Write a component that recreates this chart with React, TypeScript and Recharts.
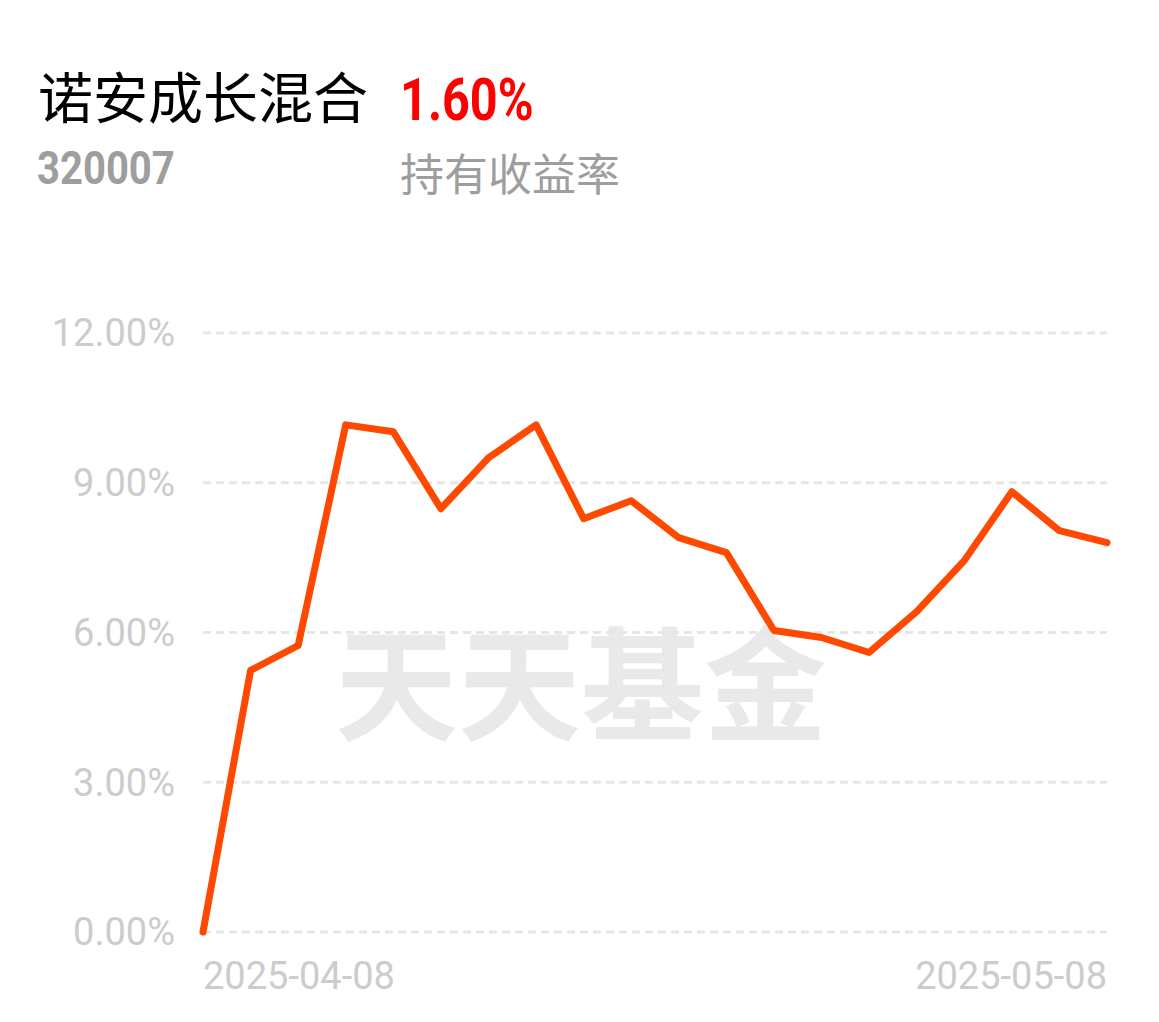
import { LineChart, Line, XAxis, YAxis, CartesianGrid } from "recharts";

const dates = [
  "2025-04-08", "2025-04-09", "2025-04-10", "2025-04-11", "2025-04-14",
  "2025-04-15", "2025-04-16", "2025-04-17", "2025-04-18", "2025-04-21",
  "2025-04-22", "2025-04-23", "2025-04-24", "2025-04-25", "2025-04-28",
  "2025-04-29", "2025-04-30", "2025-05-06", "2025-05-07", "2025-05-08",
];
const returns = [
  0, 5.24, 5.74, 10.16, 10.02, 8.48, 9.5, 10.16, 8.28, 8.64,
  7.9, 7.6, 6.04, 5.9, 5.6, 6.42, 7.44, 8.82, 8.04, 7.8,
];
const yTicks = [0, 3, 6, 9, 12];
const xTicks = ["2025-04-08", "2025-05-08"];

const data = dates.map((d, i) => ({ date: d, value: returns[i] }));

const FONT = "Roboto, 'Noto Sans CJK SC', sans-serif";

function XTick(props: any) {
  const { x, y, payload, index } = props;
  const anchor = index === 0 ? "start" : "end";
  return (
    <text
      x={x}
      y={y}
      dy="0.71em"
      textAnchor={anchor}
      fill="#cccccc"
      fontSize={38}
      fontFamily={FONT}
    >
      {payload.value}
    </text>
  );
}

export default function App() {
  return (
    <div style={{ position: "relative", width: 1143, height: 1006, background: "#fff", fontFamily: FONT }}>
      <div
        style={{
          position: "absolute", left: 30, top: 59, fontSize: 55, lineHeight: 1,
          color: "#000", fontFamily: "'Noto Sans CJK SC', sans-serif",
        }}
      >
        诺安成长混合
      </div>
      <div
        style={{
          position: "absolute", left: 392, top: 62, fontSize: 60, lineHeight: 1,
          color: "#ff0000", fontWeight: 700, transform: "scaleX(0.81)", transformOrigin: "left top",
        }}
      >
        1.60%
      </div>
      <div
        style={{
          position: "absolute", left: 29, top: 137, fontSize: 46, lineHeight: 1,
          color: "#9e9e9e", fontWeight: 700, transform: "scaleX(0.87)", transformOrigin: "left top",
        }}
      >
        320007
      </div>
      <div
        style={{
          position: "absolute", left: 392, top: 142, fontSize: 44, lineHeight: 1,
          color: "#9e9e9e", fontFamily: "'Noto Sans CJK SC', sans-serif",
        }}
      >
        持有收益率
      </div>
      <div
        style={{
          position: "absolute", left: 327, top: 608, fontSize: 123, lineHeight: 1,
          color: "#e9e9e9", fontWeight: 700, fontFamily: "'Noto Sans CJK SC', sans-serif",
          whiteSpace: "nowrap",
        }}
      >
        天天基金
      </div>
      <div style={{ position: "absolute", left: 0, top: 0 }}>
        <LineChart
          width={1143}
          height={1006}
          data={data}
          margin={{ top: 325, right: 44, bottom: 0, left: 0 }}
        >
          <CartesianGrid
            vertical={false}
            stroke="#e6e6e6"
            strokeWidth={3}
            strokeDasharray="8 5"
          />
          <XAxis
            dataKey="date"
            scale="point"
            ticks={xTicks}
            interval={0}
            axisLine={false}
            tickLine={false}
            tickSize={6}
            tickMargin={24}
            height={82}
            tick={<XTick />}
          />
          <YAxis
            domain={[0, 12]}
            ticks={yTicks}
            width={195}
            axisLine={false}
            tickLine={false}
            tickSize={6}
            tickMargin={22}
            tickFormatter={(v: number) => v.toFixed(2) + "%"}
            tick={{ fill: "#cccccc", fontSize: 38, fontFamily: FONT }}
          />
          <Line
            type="linear"
            dataKey="value"
            stroke="#ff4800"
            strokeWidth={7}
            dot={false}
            strokeLinejoin="round"
            strokeLinecap="round"
            isAnimationActive={false}
          />
        </LineChart>
      </div>
    </div>
  );
}
